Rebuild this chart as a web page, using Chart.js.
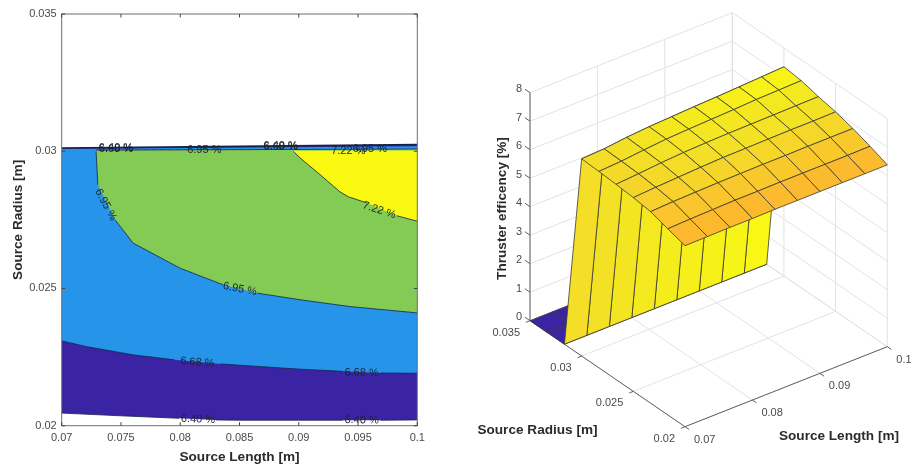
<!DOCTYPE html>
<html>
<head>
<meta charset="utf-8">
<script src="https://cdn.jsdelivr.net/npm/chart.js@4"></script>
<style>
  html, body { margin:0; padding:0; background:#fff; overflow:hidden }
  #wrap { position:relative; width:912px; height:466px }
  canvas { position:absolute; top:0; filter:blur(0.35px) }
  #contour { left:0 }
  #surface { left:440px }
</style>
</head>
<body>
<div id="wrap">
  <canvas id="contour" width="440" height="466"></canvas>
  <canvas id="surface" width="472" height="466"></canvas>
</div>
<script>
// tick labels
const lengthTicksLeft = [0.07, 0.075, 0.08, 0.085, 0.09, 0.095, 0.1]
const radiusTicksLeft = [0.02, 0.025, 0.03, 0.035]
const lengthTicks3d = [0.07, 0.08, 0.09, 0.1]
const radiusTicks3d = [0.02, 0.025, 0.03, 0.035]
const effTicks3d = [0, 1, 2, 3, 4, 5, 6, 7, 8]

// contour levels, null radius = gap where the label sits
const level640L = [0.07, 0.075, 0.0799, 0.081, 0.083, 0.085, 0.09, 0.0937, 0.095, 0.0969, 0.1]
const level640R = [0.02046, 0.02036, 0.02027, null, 0.02021, 0.0202, 0.0202, 0.0202, null, 0.0202, 0.02021]
const level680L = [0.07, 0.07211, 0.07604, 0.0795, 0.081, 0.0834, 0.0901, 0.0937, 0.095, 0.0969, 0.1]
const level680R = [0.02309, 0.02288, 0.02258, 0.0224, null, 0.02225, 0.02206, 0.02198, null, 0.02192, 0.02191]
const level695L = [0.0729, 0.07305, 0.0735, 0.0745, 0.07576, 0.07599, 0.07717, 0.07998, 0.08364, 0.085, 0.0865, 0.0901, 0.09432, 0.1]
const level695R = [0.03, 0.02878, null, 0.0275, 0.0268, 0.02666, 0.02639, 0.02574, 0.02513, null, 0.02483, 0.02459, 0.02434, 0.02411]
const level722L = [0.08954, 0.0901, 0.09179, 0.09348, 0.09418, 0.09573, 0.0968, 0.09826, 0.1]
const level722R = [0.03, 0.02976, 0.02915, 0.02852, 0.02834, 0.02812, null, 0.02765, 0.02745]
const topEdgeL = [0.07, 0.1]
const topEdge640 = [0.03012, 0.03024]
const topEdge680 = [0.03008, 0.03018]
const topEdge695 = [0.03004, 0.03008]
const topEdge722 = [0.03002, 0.03003]

const labelTexts = ['6.95 %', '7.22 %', '6.95 %', '7.22 %', '6.95 %', '6.40 %', '6.68 %', '6.40 %', '6.68 %', '6.95 %', '6.68 %', '6.68 %', '6.40 %', '6.40 %']
const labelL = [0.07371, 0.09679, 0.08203, 0.09418, 0.096, 0.07458, 0.07458, 0.08847, 0.08847, 0.08504, 0.08144, 0.0953, 0.0815, 0.0953]
const labelR = [0.02805, 0.02785, 0.03004, 0.03, 0.03007, 0.03012, 0.03009, 0.03018, 0.03014, 0.02498, 0.02231, 0.02193, 0.02023, 0.0202]
const labelAngle = [62, 18, 0, 0, 0, 0, 0, 0, 0, 11, 5, 1, 2, 1]

// surface grid
const lengthGrid = [0.07, 0.07333, 0.07667, 0.08, 0.08333, 0.08667, 0.09, 0.09333, 0.09667, 0.1]
const radiusGrid = [0.02, 0.02167, 0.02333, 0.025, 0.02667, 0.02833, 0.03, 0.03167, 0.03333, 0.035]
const effRow020 = [6.35, 6.36, 6.37, 6.37, 6.38, 6.38, 6.38, 6.38, 6.38, 6.38]
const effRow022 = [6.53, 6.56, 6.58, 6.60, 6.60, 6.61, 6.61, 6.61, 6.61, 6.62]
const effRow023 = [6.72, 6.76, 6.78, 6.80, 6.81, 6.82, 6.82, 6.83, 6.83, 6.83]
const effRow025 = [6.80, 6.85, 6.89, 6.93, 6.96, 6.97, 6.98, 6.99, 6.99, 7.00]
const effRow027 = [6.85, 6.91, 6.98, 7.03, 7.06, 7.08, 7.09, 7.10, 7.11, 7.12]
const effRow028 = [6.89, 6.94, 7.02, 7.09, 7.13, 7.16, 7.19, 7.23, 7.25, 7.27]
const effRow030 = [6.92, 6.96, 7.05, 7.11, 7.15, 7.19, 7.22, 7.26, 7.30, 7.34]
const effRow032 = [0, 0, 0, 0, 0, 0, 0, 0, 0, 0]
const effRow033 = [0, 0, 0, 0, 0, 0, 0, 0, 0, 0]
const effRow035 = [0, 0, 0, 0, 0, 0, 0, 0, 0, 0]
const effGrid = [effRow020, effRow022, effRow023, effRow025, effRow027, effRow028, effRow030, effRow032, effRow033, effRow035]

const FONT = '"Liberation Sans", Arial, sans-serif'
const TICK_GREY = '#4a4a4a'
const TITLE_GREY = '#2b2b2b'
Chart.defaults.font.family = FONT
Chart.defaults.animation = false

function pts(ls, rs){ return ls.map((l,i) => ({ x:l, y:rs[i] })) }
function solid(p){ return p.filter(q => q.y !== null) }

// left panel: bands painted on top of each other
const bandDark = solid(pts(level640L, level640R)).concat(pts([0.1, 0.07], [topEdge640[1], topEdge640[0]]))
const bandBlue = solid(pts(level680L, level680R)).concat(pts([0.1, 0.07], [topEdge680[1], topEdge680[0]]))
const bandGreen = solid(pts(level695L, level695R)).concat(pts([0.1, 0.0729], [topEdge695[1], topEdge695[0]]))
const bandYellow = solid(pts(level722L, level722R)).concat(pts([0.1, 0.08954], [topEdge722[1], topEdge722[0]]))

function band(data, color){ return { data, showLine:true, fill:'shape', backgroundColor:color, borderWidth:0, pointRadius:0 } }
function contourLine(data, width){ return { data, showLine:true, fill:false, borderColor:'#14224a', borderWidth:width||0.8, pointRadius:0 } }

const leftSets = [
  band(bandDark, '#3b24a3'),
  band(bandBlue, '#2695e9'),
  band(bandGreen, '#83cb54'),
  band(bandYellow, '#f9f912'),
  contourLine(pts(level640L, level640R)),
  contourLine(pts(level680L, level680R)),
  contourLine(pts(level695L, level695R)),
  contourLine(pts(level722L, level722R)),
  contourLine(pts(topEdgeL, topEdge640), 1.6),
  contourLine(pts([0.0729, 0.1], topEdge695), 0.8)
]
leftSets.forEach((d,i) => { d.order = -i })

const boxAndLabels = {
  id:'boxAndLabels',
  afterDraw(chart){
    const c = chart.ctx, a = chart.chartArea, xs = chart.scales.x, ys = chart.scales.y
    c.save()
    c.strokeStyle = '#6e6e6e'
    c.lineWidth = 1
    c.strokeRect(a.left, a.top, a.right-a.left, a.bottom-a.top)
    c.strokeStyle = '#444'
    c.beginPath()
    xs.ticks.forEach(t => {
      const p = xs.getPixelForValue(t.value)
      c.moveTo(p, a.bottom); c.lineTo(p, a.bottom-3.5)
      c.moveTo(p, a.top); c.lineTo(p, a.top+3.5)
    })
    ys.ticks.forEach(t => {
      const p = ys.getPixelForValue(t.value)
      c.moveTo(a.left, p); c.lineTo(a.left+3.5, p)
      c.moveTo(a.right, p); c.lineTo(a.right-3.5, p)
    })
    c.stroke()
    // contour labels
    c.fillStyle = '#1c2430'
    c.font = '11px ' + FONT
    c.textAlign = 'center'
    c.textBaseline = 'middle'
    labelTexts.forEach((t,i) => {
      c.save()
      c.translate(xs.getPixelForValue(labelL[i]), ys.getPixelForValue(labelR[i]))
      c.rotate(labelAngle[i]*Math.PI/180)
      c.fillText(t, 0, 0)
      c.restore()
    })
    c.restore()
  }
}

new Chart(document.getElementById('contour'), {
  type:'scatter',
  data:{ datasets:leftSets },
  plugins:[boxAndLabels],
  options:{
    responsive:false,
    layout:{ padding:{ top:14, right:22.7, left:0, bottom:0 } },
    plugins:{ legend:{ display:false }, tooltip:{ enabled:false } },
    scales:{
      x:{
        type:'linear', min:0.07, max:0.1,
        afterBuildTicks: s => { s.ticks = lengthTicksLeft.map(v => ({ value:v })) },
        afterFit: s => { s.height = 40.3 },
        grid:{ display:false, drawTicks:false, tickLength:0 }, border:{ display:false },
        ticks:{ color:TICK_GREY, font:{ size:11 }, padding:6, maxRotation:0, autoSkip:false, callback:v => String(v) },
        title:{ display:true, text:'Source Length [m]', color:TITLE_GREY, font:{ size:13.6, weight:'bold' }, padding:{ top:0, bottom:1 } }
      },
      y:{
        type:'linear', min:0.02, max:0.035,
        afterBuildTicks: s => { s.ticks = radiusTicksLeft.map(v => ({ value:v })) },
        afterFit: s => { s.width = 61.7 },
        grid:{ display:false, drawTicks:false, tickLength:0 }, border:{ display:false },
        ticks:{ color:TICK_GREY, font:{ size:11 }, padding:5, autoSkip:false, callback:v => String(v) },
        title:{ display:true, text:'Source Radius [m]', color:TITLE_GREY, font:{ size:13.6, weight:'bold' }, padding:{ top:10, bottom:0 } }
      }
    }
  }
})

// right panel: orthographic view of the surf plot, canvas px = scale units
const OX = 90, OY = 320.7
function project(l, r, z){
  const u = (l-0.07)/0.03, v = (0.035-r)/0.015
  return { x: OX + u*202.3 + v*155, y: OY - u*80 + v*106 - z/8*228 }
}

const colorZ = [0, 6.35, 6.6, 6.8, 6.95, 7.1, 7.34]
const colorRGB = [[59,36,163],[252,184,46],[249,200,44],[246,213,42],[243,224,38],[244,232,32],[249,250,20]]
function surfColor(z){
  let i = 0
  while (i < colorZ.length-2 && z > colorZ[i+1]) i++
  const t = Math.min(1, Math.max(0, (z-colorZ[i])/(colorZ[i+1]-colorZ[i])))
  const c = colorRGB[i].map((v,k) => Math.round(v + (colorRGB[i+1][k]-v)*t))
  return 'rgb(' + c.join(',') + ')'
}

const GAP = { x:NaN, y:NaN }
function segs(list){ const out = []; list.forEach(s => { out.push(project(...s[0]), project(...s[1]), GAP) }); return out }

// back panes
const gridSegs = []
lengthTicks3d.forEach(l => {
  gridSegs.push([[l,0.02,0],[l,0.035,0]])
  gridSegs.push([[l,0.035,0],[l,0.035,8]])
})
radiusTicks3d.forEach(r => {
  gridSegs.push([[0.07,r,0],[0.1,r,0]])
  gridSegs.push([[0.1,r,0],[0.1,r,8]])
})
effTicks3d.forEach(z => {
  gridSegs.push([[0.07,0.035,z],[0.1,0.035,z]])
  gridSegs.push([[0.1,0.035,z],[0.1,0.02,z]])
})

// axis lines with their short ticks
const axisSegs = [
  [[0.07,0.035,0],[0.07,0.035,8]],
  [[0.07,0.035,0],[0.07,0.02,0]],
  [[0.07,0.02,0],[0.1,0.02,0]]
]
lengthTicks3d.forEach(l => axisSegs.push([[l,0.02,0],[l,0.0196,0]]))
radiusTicks3d.forEach(r => axisSegs.push([[0.07,r,0],[0.0694,r,0]]))
effTicks3d.forEach(z => axisSegs.push([[0.07,0.035,z],[0.07,0.0355,z]]))

const rightSets = [
  { data:segs(gridSegs), showLine:true, fill:false, borderColor:'#e2e2e2', borderWidth:1, pointRadius:0 },
  { data:segs(axisSegs), showLine:true, fill:false, borderColor:'#606060', borderWidth:1, pointRadius:0 }
]
// far cells first
for (let r = radiusGrid.length-2; r >= 0; r--){
  for (let c = lengthGrid.length-2; c >= 0; c--){
    const face = [[c,r],[c+1,r],[c+1,r+1],[c,r+1],[c,r]].map(q => project(lengthGrid[q[0]], radiusGrid[q[1]], effGrid[q[1]][q[0]]))
    rightSets.push({ data:face, showLine:true, fill:'shape', backgroundColor:surfColor(effGrid[r][c]), borderColor:'#3a3a30', borderWidth:0.8, pointRadius:0 })
  }
}
rightSets.forEach((d,i) => { d.order = -i })

const axisText = {
  id:'axisText',
  afterDraw(chart){
    const c = chart.ctx
    c.save()
    c.fillStyle = TICK_GREY
    c.font = '11px ' + FONT
    c.textBaseline = 'middle'
    c.textAlign = 'right'
    effTicks3d.forEach(z => { const p = project(0.07,0.035,z); c.fillText(String(z), p.x-8, p.y-3.5) })
    radiusTicks3d.forEach(r => { const p = project(0.07,r,0); c.fillText(String(r), p.x-10, p.y+12) })
    c.textAlign = 'left'
    lengthTicks3d.forEach(l => { const p = project(l,0.02,0); c.fillText(String(l), p.x+9, p.y+13) })
    c.fillStyle = TITLE_GREY
    c.font = 'bold 13.6px ' + FONT
    c.textAlign = 'center'
    c.fillText('Source Radius [m]', 97.5, 430)
    c.fillText('Source Length [m]', 399, 436)
    c.translate(62, 208.5)
    c.rotate(-Math.PI/2)
    c.fillText('Thruster efficency [%]', 0, 0)
    c.restore()
  }
}

new Chart(document.getElementById('surface'), {
  type:'scatter',
  data:{ datasets:rightSets },
  plugins:[axisText],
  options:{
    responsive:false,
    layout:{ padding:0 },
    plugins:{ legend:{ display:false }, tooltip:{ enabled:false } },
    scales:{
      x:{ type:'linear', min:0, max:472, display:false },
      y:{ type:'linear', min:0, max:466, reverse:true, display:false }
    }
  }
})
</script>
</body>
</html>
